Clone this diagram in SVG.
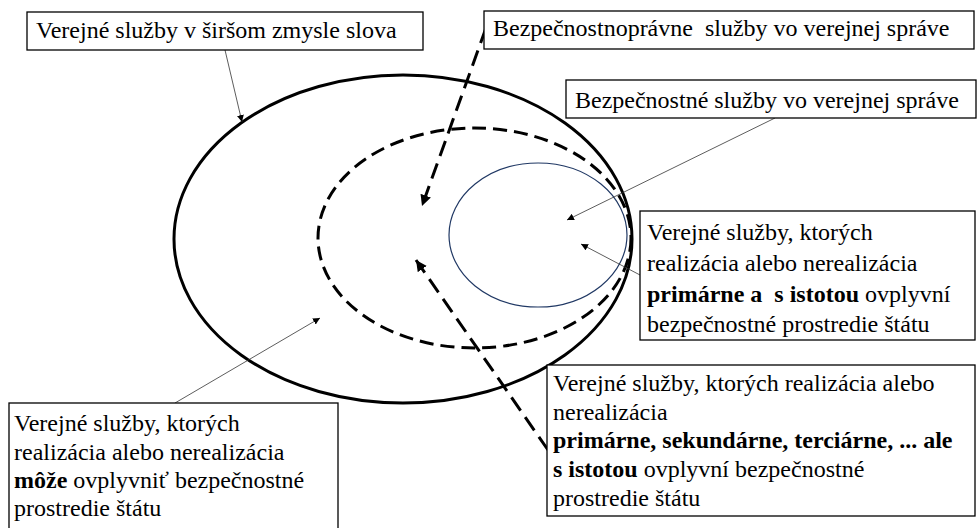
<svg xmlns="http://www.w3.org/2000/svg" width="977" height="528" viewBox="0 0 977 528">
<style>
  text { font-family: "Liberation Serif", "Times New Roman", serif; font-size: 24px; fill: #000; white-space: pre; }
  .b { font-weight: bold; }
  .box { fill: #fff; stroke: #000; stroke-width: 1.3; }
  .thin { stroke: #333; stroke-width: 0.8; fill: none; }
  .thick { stroke: #000; stroke-width: 3; fill: none; stroke-dasharray: 16 8; }
</style>
<defs>
  <marker id="sa" viewBox="0 0 10 10" refX="10" refY="5" markerWidth="7" markerHeight="7" markerUnits="userSpaceOnUse" orient="auto">
    <path d="M0,0 L10,5 L0,10 z" fill="#000"/>
  </marker>
  <marker id="la" viewBox="0 0 10 10" refX="10" refY="5" markerWidth="11" markerHeight="11" markerUnits="userSpaceOnUse" orient="auto">
    <path d="M0,0 L10,5 L0,10 z" fill="#000"/>
  </marker>
</defs>

<g id="ellipses">
  <ellipse id="outer" cx="403" cy="239" rx="229" ry="164" fill="none" stroke="#000" stroke-width="3"/>
  <ellipse id="middle" cx="474.5" cy="238" rx="156.5" ry="110" fill="none" stroke="#000" stroke-width="3" stroke-dasharray="14 7"/>
  <ellipse id="inner" cx="538" cy="235" rx="89" ry="72" fill="none" stroke="#203864" stroke-width="1.2"/>
</g>

<g id="connectors">
  <line class="thin" x1="225" y1="50" x2="242" y2="122" marker-end="url(#sa)"/>
  <line class="thick" x1="486" y1="28" x2="422" y2="206" marker-end="url(#la)"/>
  <line class="thin" x1="775" y1="118" x2="567" y2="220" marker-end="url(#sa)"/>
  <line class="thin" x1="640" y1="275" x2="581" y2="244" marker-end="url(#sa)"/>
  <line class="thick" x1="548" y1="450" x2="416" y2="260" marker-end="url(#la)"/>
  <line class="thin" x1="175" y1="403" x2="320" y2="318" marker-end="url(#sa)"/>
</g>

<g id="box-wide">
  <rect class="box" x="27" y="12" width="396" height="38"/>
  <text x="36" y="38">Verejné služby v širšom zmysle slova</text>
</g>

<g id="box-legal">
  <rect class="box" x="484" y="11" width="490" height="38"/>
  <text x="493" y="36">Bezpečnostnoprávne  služby vo verejnej správe</text>
</g>

<g id="box-security">
  <rect class="box" x="566" y="80" width="410" height="38"/>
  <text x="575" y="108">Bezpečnostné služby vo verejnej správe</text>
</g>

<g id="box-primary">
  <rect class="box" x="640" y="211" width="335" height="129"/>
  <text x="647" y="240">Verejné služby, ktorých</text>
  <text x="647" y="271">realizácia alebo nerealizácia</text>
  <text x="647" y="302"><tspan class="b">primárne a  s istotou</tspan> ovplyvní</text>
  <text x="647" y="332">bezpečnostné prostredie štátu</text>
</g>

<g id="box-secondary">
  <rect class="box" x="547" y="365" width="428" height="151"/>
  <text x="553" y="391">Verejné služby, ktorých realizácia alebo</text>
  <text x="553" y="420">nerealizácia</text>
  <text x="553" y="448" class="b">primárne, sekundárne, terciárne, ... ale</text>
  <text x="553" y="477"><tspan class="b">s istotou</tspan> ovplyvní bezpečnostné</text>
  <text x="553" y="506">prostredie štátu</text>
</g>

<g id="box-may">
  <rect class="box" x="9" y="403" width="329" height="130"/>
  <text x="14" y="431">Verejné služby, ktorých</text>
  <text x="14" y="460">realizácia alebo nerealizácia</text>
  <text x="14" y="488"><tspan class="b">môže</tspan> ovplyvniť bezpečnostné</text>
  <text x="14" y="516">prostredie štátu</text>
</g>
</svg>
